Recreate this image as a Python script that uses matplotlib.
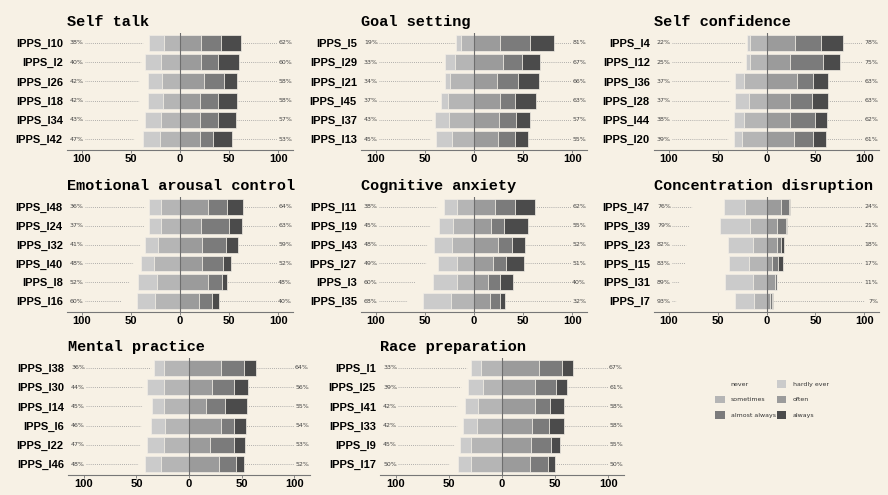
import numpy as np
import matplotlib
matplotlib.use('Agg')
import matplotlib.pyplot as plt
from matplotlib.patches import Patch

# response levels and their greys ("never" is drawn in the background colour)
levels = ['never', 'hardly ever', 'sometimes', 'often', 'almost always', 'always']
bg = '#f7f1e5'
colors = [bg, '#cbcbcb', '#b5b5b5', '#9b9b9b', '#7b7b7b', '#4b4b4b']

# percentages per item: never, hardly ever, sometimes, often, almost always, always
self_talk_items = ['IPPS_I10', 'IPPS_I2', 'IPPS_I26', 'IPPS_I18', 'IPPS_I34', 'IPPS_I42']
self_talk_pct = [[6, 15.5, 16.5, 21.5, 20.5, 20],
                 [4, 16.5, 19.5, 21.5, 17, 21.5],
                 [9, 14.5, 18.5, 24.5, 20, 13.5],
                 [9, 15.5, 17.5, 20.5, 18, 19.5],
                 [7, 16.5, 19.5, 20.5, 18, 18.5],
                 [9.5, 17, 20.5, 20.5, 13.5, 19]]

goal_items = ['IPPS_I5', 'IPPS_I29', 'IPPS_I21', 'IPPS_I45', 'IPPS_I37', 'IPPS_I13']
goal_pct = [[0.5, 5, 13.5, 26.5, 30, 24.5],
            [3, 10.5, 19.5, 30, 18.5, 18.5],
            [4, 6, 24, 23, 21.5, 21.5],
            [3, 8, 26, 26.5, 15.5, 21],
            [3.5, 14.5, 25, 25.5, 17.5, 14],
            [6.5, 16, 22.5, 24.5, 17, 13.5]]

conf_items = ['IPPS_I4', 'IPPS_I12', 'IPPS_I36', 'IPPS_I28', 'IPPS_I44', 'IPPS_I20']
conf_pct = [[2, 3.5, 16.5, 29, 26.5, 22.5],
            [4, 4.5, 16.5, 24, 33.5, 17.5],
            [5, 9.5, 22.5, 31, 17, 15],
            [4.5, 14.5, 18, 24, 22, 17],
            [5, 10.5, 22.5, 24.5, 25.5, 12],
            [6, 7.5, 25.5, 28.5, 19, 13.5]]

arousal_items = ['IPPS_I48', 'IPPS_I24', 'IPPS_I32', 'IPPS_I40', 'IPPS_I8', 'IPPS_I16']
arousal_pct = [[4, 12.5, 19.5, 28, 19.5, 16.5],
               [5.5, 12, 19.5, 21, 28.5, 13.5],
               [5.5, 13.5, 22, 22.5, 24, 12.5],
               [8, 13.5, 26.5, 22.5, 21, 8.5],
               [9, 19.5, 23.5, 28, 15, 5],
               [16, 18.5, 25.5, 19.5, 13, 7.5]]

anxiety_items = ['IPPS_I11', 'IPPS_I19', 'IPPS_I43', 'IPPS_I27', 'IPPS_I3', 'IPPS_I35']
anxiety_pct = [[7, 13.5, 17.5, 21, 20.5, 20.5],
               [9.5, 14.5, 21, 17, 13.5, 24.5],
               [7.5, 18.5, 22, 24.5, 14, 13.5],
               [12.5, 19, 17.5, 19.5, 13.5, 18],
               [18.5, 24, 17.5, 14.5, 11.5, 14],
               [16.5, 28.5, 23, 16.5, 9.5, 6]]

disrupt_items = ['IPPS_I47', 'IPPS_I39', 'IPPS_I23', 'IPPS_I15', 'IPPS_I31', 'IPPS_I7']
disrupt_pct = [[33, 21.5, 21.5, 14.5, 8, 1.5],
               [31, 31, 17, 11, 8.5, 1.5],
               [43, 25.5, 13.5, 10.5, 4, 3.5],
               [45, 20, 18, 6, 5.5, 5.5],
               [46.5, 28.5, 14, 8.5, 2, 0.5],
               [61, 19, 13, 4, 1.8, 1.2]]

mental_items = ['IPPS_I38', 'IPPS_I30', 'IPPS_I14', 'IPPS_I6', 'IPPS_I22', 'IPPS_I46']
mental_pct = [[2.5, 9.5, 24, 30, 22.5, 11.5],
              [4.5, 15.5, 24, 22, 21, 13],
              [10, 11, 24, 16.5, 18, 20.5],
              [9.5, 14, 22.5, 30, 13, 11],
              [7.5, 15.5, 24, 20, 22.5, 10.5],
              [6, 15, 27, 28.5, 16, 7.5]]

race_items = ['IPPS_I1', 'IPPS_I25', 'IPPS_I41', 'IPPS_I33', 'IPPS_I9', 'IPPS_I17']
race_pct = [[3.5, 9.5, 20, 34.5, 22.5, 10],
            [6.5, 14.5, 18, 31.5, 19, 10.5],
            [7.5, 11.5, 23, 31, 14.5, 12.5],
            [5.5, 12.5, 24, 28.5, 16, 13.5],
            [5.5, 10.5, 29, 27, 19, 9],
            [8.5, 12, 29.5, 26, 17.5, 6.5]]

titles = ['Self talk', 'Goal setting', 'Self confidence',
          'Emotional arousal control', 'Cognitive anxiety', 'Concentration disruption',
          'Mental practice', 'Race preparation']
items = [self_talk_items, goal_items, conf_items, arousal_items,
         anxiety_items, disrupt_items, mental_items, race_items]
pcts = [self_talk_pct, goal_pct, conf_pct, arousal_pct,
        anxiety_pct, disrupt_pct, mental_pct, race_pct]

W, H = 888, 495
fig = plt.figure(figsize=(W / 100, H / 100), dpi=100)
fig.patch.set_facecolor(bg)

# axes boxes in pixels: left, right, top, bottom
boxes = [(67, 293, 33, 150), (361, 587, 33, 150), (654, 879, 33, 150),
         (67, 293, 197, 312), (361, 587, 197, 312), (654, 879, 197, 312),
         (68, 310, 358, 475), (380, 624, 358, 475)]

for title, labs, data, (l, r, t, b) in zip(titles, items, pcts, boxes):
    ax = fig.add_axes([l / W, 1 - b / H, (r - l) / W, (b - t) / H])
    ax.set_facecolor(bg)
    data = np.array(data, dtype=float)
    y = np.arange(len(labs))
    left_tot = data[:, :3].sum(axis=1)
    right_tot = data[:, 3:].sum(axis=1)

    # dotted guide lines behind the bars
    ax.hlines(y, -100, 100, colors='#999999', linestyles=(0, (1, 1.5)), lw=0.6, zorder=1)

    start = -left_tot.copy()
    for k in range(6):
        ax.barh(y, data[:, k], left=start, height=0.84, color=colors[k],
                edgecolor=bg if k == 0 else '#f2eee6', linewidth=0.5, zorder=2)
        start = start + data[:, k]

    for yi, lv, rv in zip(y, left_tot, right_tot):
        ax.text(-112, yi, f'{lv:.0f}%', ha='left', va='center', fontsize=4.5,
                color='#444444', zorder=3, bbox=dict(fc=bg, ec='none', pad=0.6))
        ax.text(114, yi, f'{rv:.0f}%', ha='right', va='center', fontsize=4.5,
                color='#444444', zorder=3, bbox=dict(fc=bg, ec='none', pad=0.6))

    ax.axvline(0, color='#6e6e6e', lw=0.8, zorder=4)
    ax.set_xlim(-115, 115)
    ax.set_ylim(len(labs) - 0.43, -0.52)
    ax.set_yticks(y)
    ax.set_yticklabels(labs, fontfamily='Liberation Sans', fontweight='bold', fontsize=8)
    ax.set_xticks([-100, -50, 0, 50, 100])
    ax.set_xticklabels(['100', '50', '0', '50', '100'],
                       fontfamily='Liberation Sans', fontweight='bold', fontsize=8)
    ax.tick_params(axis='y', length=0, pad=3)
    ax.tick_params(axis='x', length=2, width=0.6, color='#777777', pad=1)
    for s in ['top', 'left', 'right']:
        ax.spines[s].set_visible(False)
    ax.spines['bottom'].set_color('#777777')
    ax.spines['bottom'].set_linewidth(0.8)
    ax.set_title(title, loc='left', fontfamily='Liberation Mono', fontweight='bold',
                 fontsize=11, pad=5)

# legend, filled row by row in two columns
order = [0, 2, 4, 1, 3, 5]
handles = [Patch(facecolor=colors[i], edgecolor='none', label=levels[i]) for i in order]
fig.legend(handles=handles, ncol=2, loc='upper left',
           bbox_to_anchor=(712 / W, 1 - 377 / H), frameon=False, fontsize=4.5,
           handlelength=1.5, handleheight=1.5, handletextpad=1.0,
           labelspacing=1.25, columnspacing=0.2, borderpad=0, labelcolor='#333333')

fig.savefig('out.png', dpi=100, facecolor=bg)
